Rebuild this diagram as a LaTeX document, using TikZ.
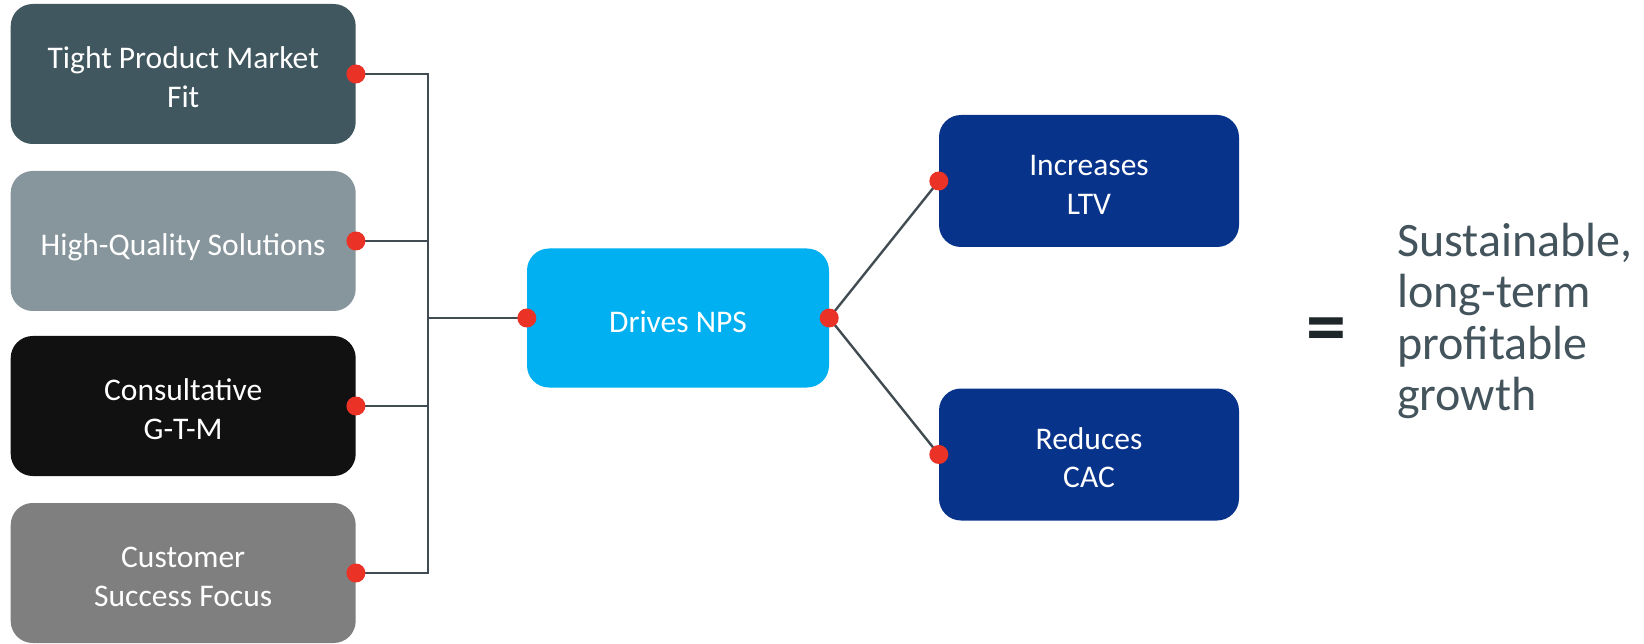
\documentclass[tikz,border=0pt]{standalone}
\usepackage{fontspec}
\setmainfont{Carlito}
\definecolor{cSlate}{HTML}{41575F}
\definecolor{cGrayBlue}{HTML}{87969C}
\definecolor{cBlack}{HTML}{111111}
\definecolor{cGray}{HTML}{7F7F7F}
\definecolor{cSky}{HTML}{00B0F0}
\definecolor{cNavy}{HTML}{08338A}
\definecolor{cLine}{HTML}{414C52}
\definecolor{cDot}{HTML}{EA3226}
\definecolor{cText}{HTML}{44545C}
\definecolor{cEq}{HTML}{1E2629}
\newcommand{\bxt}[1]{\raisebox{-6.5pt}[\height][\depth]{\begin{tabular}{@{}c@{}}#1\end{tabular}}}
\begin{document}
\begin{tikzpicture}[x=1pt,y=-1pt,
  box/.style={rectangle, rounded corners=22pt, inner sep=0pt, align=center, text=white,
    font=\fontsize{31.5}{38.4}\selectfont},
  leftbox/.style={box, minimum width=345pt, minimum height=140pt},
  outbox/.style={box, minimum width=300pt, minimum height=132pt, fill=cNavy},
  conn/.style={draw=cLine, line width=2.4pt},
  dot/.style={circle, fill=cDot, inner sep=0pt, minimum size=19pt}]
\useasboundingbox (0,0) rectangle (1644,644);
\node[leftbox, fill=cSlate] (b1) at (183.2,74) {\bxt{Tight Product Market\\Fit}};
\node[leftbox, fill=cGrayBlue] (b2) at (183.2,241) {\bxt{High-Quality Solutions}};
\node[leftbox, fill=cBlack] (b3) at (183.2,406) {\bxt{Consultative\\G-T-M}};
\node[leftbox, fill=cGray] (b4) at (183.2,573) {\bxt{Customer\\Success Focus}};
\node[box, fill=cSky, minimum width=302pt, minimum height=139pt] (nps) at (678,318) {\bxt{Drives NPS}};
\node[outbox] (ltv) at (1089,181) {\bxt{Increases\\LTV}};
\node[outbox] (cac) at (1089,454.5) {\bxt{Reduces\\CAC}};
\coordinate (busx) at (428,0);
\draw[conn] (b1.east) -- (b1.east -| busx) |- (b4.east);
\draw[conn] (b2.east) -- (b2.east -| busx);
\draw[conn] (b3.east) -- (b3.east -| busx);
\draw[conn] (nps.west) -- (nps.west -| busx);
\draw[conn] (nps.east) -- (ltv.west);
\draw[conn] (nps.east) -- (cac.west);
\foreach \n in {b1,b2,b3,b4} {\node[dot] (d\n) at (\n.east) {};}
\node[dot] (dnpsw) at (nps.west) {};
\node[dot] (dnpse) at (nps.east) {};
\node[dot] (dltv) at (ltv.west) {};
\node[dot] (dcac) at (cac.west) {};
\node[text=cEq, font=\fontsize{80}{80}\bfseries\selectfont, inner sep=0pt] (eq) at (1326,336) {=};
\node[text=cText, align=left, anchor=west, inner sep=0pt, font=\fontsize{48}{51.5}\selectfont] (res) at (1397,321) {Sustainable,\\long-term\\profitable\\growth};
\end{tikzpicture}
\end{document}
